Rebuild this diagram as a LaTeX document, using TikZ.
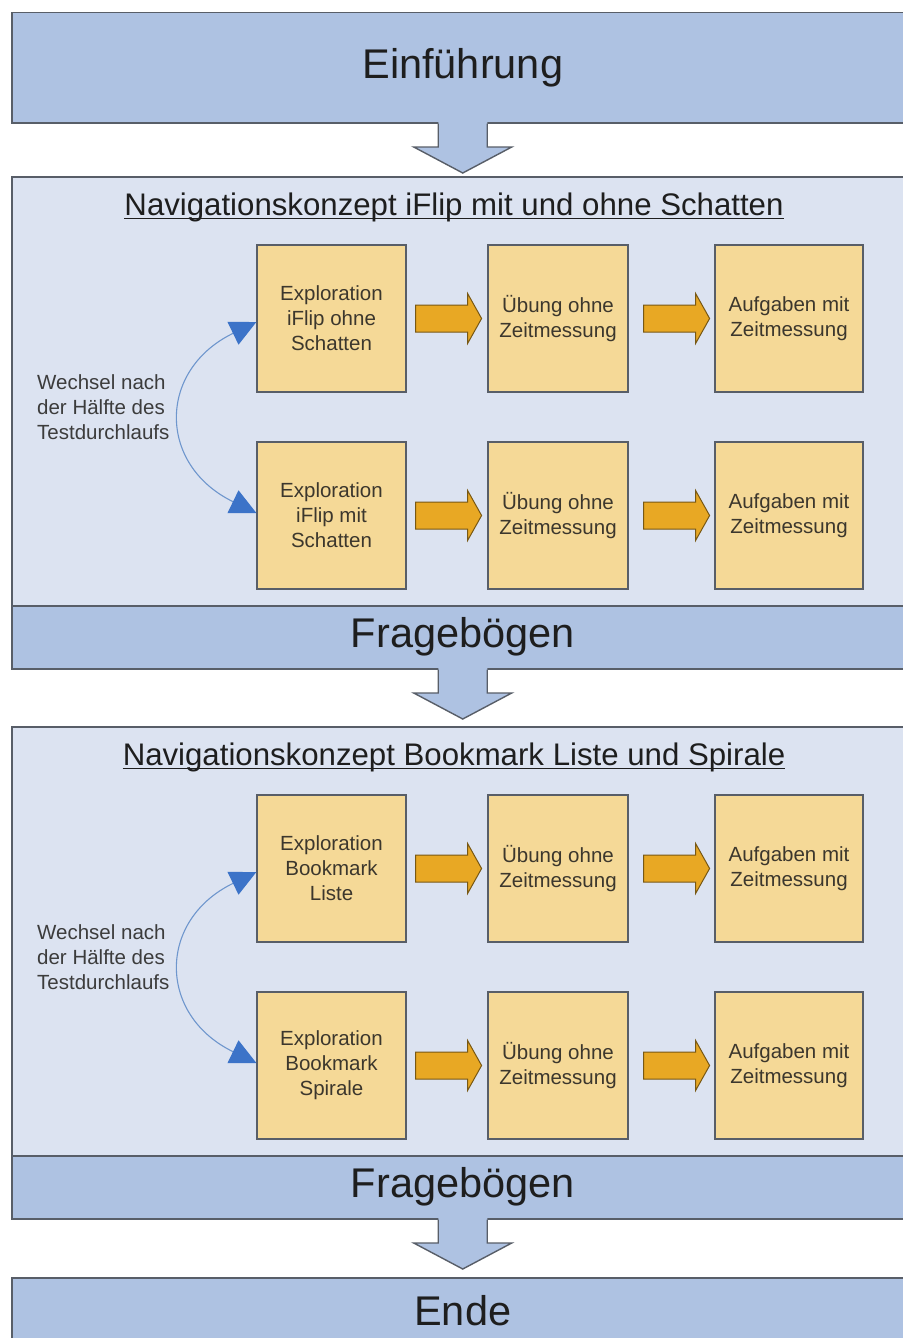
\documentclass[tikz,border=0pt]{standalone}
\usepackage{fontspec}
\setmainfont{Liberation Sans}
\usetikzlibrary{arrows.meta,calc}
\definecolor{bandblue}{RGB}{174,194,226}
\definecolor{panelbg}{RGB}{220,227,241}
\definecolor{boxfill}{RGB}{245,217,151}
\definecolor{frame}{RGB}{88,94,104}
\definecolor{orfill}{RGB}{232,168,36}
\definecolor{ordraw}{RGB}{120,88,20}
\definecolor{curveblue}{RGB}{110,150,205}
\definecolor{tipblue}{RGB}{60,115,200}
\definecolor{txt}{RGB}{30,30,30}
\definecolor{boxtxt}{RGB}{60,55,45}
\definecolor{sidetxt}{RGB}{60,60,60}
\newcommand{\orarr}[2]{%
  \filldraw[orarrow] ([xshift=#2]#1.east) ++(0,-13.5) -- ++(52,0) -- ++(0,-11.5)
    -- ++(14,25) -- ++(-14,25) -- ++(0,-11.5) -- ++(-52,0) -- cycle;}
\newcommand{\blockarr}[1]{%
  \fill[bandblue] ([xshift=-24.5pt,yshift=1.5pt]#1.south) -- ++(0,25) -- ++(-24.5,0)
    -- ++(49,26) -- ++(49,-26) -- ++(-24.5,0) -- ++(0,-25) -- cycle;
  \draw[frame,line width=1.4pt,line join=miter] ([xshift=-24.5pt]#1.south) -- ++(0,23.5) -- ++(-24.5,0)
    -- ++(49,26) -- ++(49,-26) -- ++(-24.5,0) -- ++(0,-23.5);}
\begin{document}
\begin{tikzpicture}[x=1pt,y=-1pt,
  band/.style={draw=frame, line width=1.5pt, fill=bandblue, anchor=north west,
    minimum width=902pt, inner sep=0pt, text=txt, font=\fontsize{41.5}{46}\selectfont},
  panel/.style={draw=frame, line width=1.5pt, fill=panelbg, anchor=north west,
    minimum width=902pt, minimum height=429pt, inner sep=0pt},
  stepbox/.style={draw=frame, line width=1.2pt, fill=boxfill, minimum height=147pt,
    inner sep=0pt, align=center, text=boxtxt, font=\fontsize{20.5}{25}\selectfont},
  titlenode/.style={anchor=base, inner sep=0pt, text=txt, font=\fontsize{31.2}{35}\selectfont},
  sidenote/.style={anchor=west, align=left, inner sep=0pt, text=sidetxt,
    font=\fontsize{20.5}{25}\selectfont},
  orarrow/.style={fill=orfill, draw=ordraw, line width=1pt, line join=miter},
  swapline/.style={draw=curveblue, line width=1.1pt,
    {Triangle[length=26pt,width=25pt,color=tipblue]}-{Triangle[length=26pt,width=25pt,color=tipblue]}},
]
\useasboundingbox (0,0) rectangle (902,1338);
\fill[white] (0,0) rectangle (902,1338);

% Introduction
\node[band, minimum height=110pt] (ein) at (11,12) {Einführung};

% Panel 1
\node[panel] (p1) at (11,176) {};
\node[titlenode] (t1) at (454,215) {Navigationskonzept iFlip mit und ohne Schatten};
\draw[txt, line width=1.4pt] ([yshift=-3.5pt]t1.base west) -- ([yshift=-3.5pt]t1.base east);
\node[stepbox, minimum width=149pt] (a1) at (331.5,318.5) {Exploration\\iFlip ohne\\Schatten};
\node[stepbox, minimum width=140pt] (a2) at (558,318.5) {Übung ohne\\Zeitmessung};
\node[stepbox, minimum width=148pt] (a3) at (789,318.5) {Aufgaben mit\\Zeitmessung};
\node[stepbox, minimum width=149pt] (b1) at (331.5,515.5) {Exploration\\iFlip mit\\Schatten};
\node[stepbox, minimum width=140pt] (b2) at (558,515.5) {Übung ohne\\Zeitmessung};
\node[stepbox, minimum width=148pt] (b3) at (789,515.5) {Aufgaben mit\\Zeitmessung};
\orarr{a1}{9pt}\orarr{a2}{15pt}\orarr{b1}{9pt}\orarr{b2}{15pt}
\node[sidenote] (w1) at (37,407) {Wechsel nach\\der Hälfte des\\Testdurchlaufs};
\draw[swapline] ([yshift=-3.5pt]a1.west) .. controls +(-99,48) and +(-99,-48) .. ([yshift=2.5pt]b1.west);
\node[band, minimum height=63pt] (f1) at (11,605) {Fragebögen};

% Panel 2
\node[panel] (p2) at (11,726) {};
\node[titlenode] (t2) at (454,765) {Navigationskonzept Bookmark Liste und Spirale};
\draw[txt, line width=1.4pt] ([yshift=-3.5pt]t2.base west) -- ([yshift=-3.5pt]t2.base east);
\node[stepbox, minimum width=149pt] (c1) at (331.5,868.5) {Exploration\\Bookmark\\Liste};
\node[stepbox, minimum width=140pt] (c2) at (558,868.5) {Übung ohne\\Zeitmessung};
\node[stepbox, minimum width=148pt] (c3) at (789,868.5) {Aufgaben mit\\Zeitmessung};
\node[stepbox, minimum width=149pt] (d1) at (331.5,1065.5) {Exploration\\Bookmark\\Spirale};
\node[stepbox, minimum width=140pt] (d2) at (558,1065.5) {Übung ohne\\Zeitmessung};
\node[stepbox, minimum width=148pt] (d3) at (789,1065.5) {Aufgaben mit\\Zeitmessung};
\orarr{c1}{9pt}\orarr{c2}{15pt}\orarr{d1}{9pt}\orarr{d2}{15pt}
\node[sidenote] (w2) at (37,957) {Wechsel nach\\der Hälfte des\\Testdurchlaufs};
\draw[swapline] ([yshift=-3.5pt]c1.west) .. controls +(-99,48) and +(-99,-48) .. ([yshift=2.5pt]d1.west);
\node[band, minimum height=63pt] (f2) at (11,1155) {Fragebögen};

% End
\node[band, minimum height=66pt] (ende) at (11,1277) {Ende};

% Block arrows between stages
\blockarr{ein}
\blockarr{f1}
\blockarr{f2}
\end{tikzpicture}
\end{document}
